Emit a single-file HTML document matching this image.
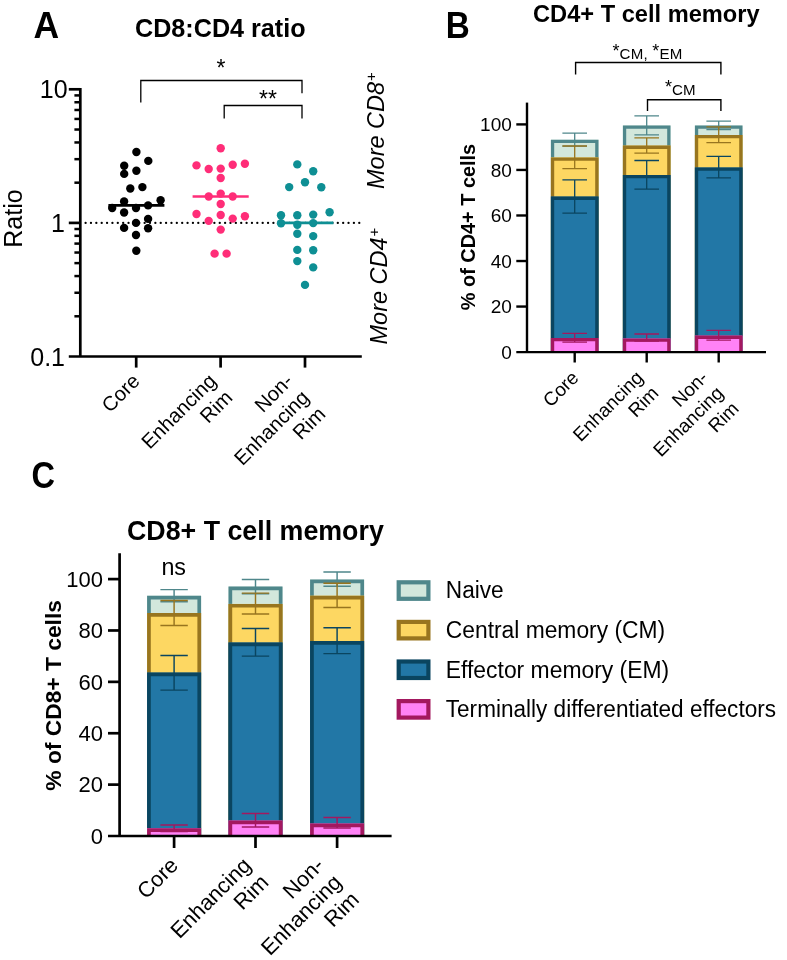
<!DOCTYPE html>
<html lang="en">
<head>
<meta charset="utf-8">
<title>T cell memory figure</title>
<style>
html,body{margin:0;padding:0;background:#fff;}
body{width:787px;height:960px;overflow:hidden;}
svg{display:block;}
svg text{font-family:"Liberation Sans", sans-serif;fill:#000;}
</style>
</head>
<body>
<svg width="787" height="960" viewBox="0 0 787 960">
<rect x="0" y="0" width="787" height="960" fill="#fff"/>
<g id="panelA">
<text transform="translate(33.5 37.8) scale(0.95 1)" font-size="37.4" font-weight="bold">A</text>
<text x="135.0" y="36.7" font-size="26.2" font-weight="bold" textLength="170.6" lengthAdjust="spacingAndGlyphs">CD8:CD4 ratio</text>
<line x1="85.6" y1="222.9" x2="362" y2="222.9" stroke="#000" stroke-width="2.3" stroke-linecap="round" stroke-dasharray="0.01 5.356"/>
<path d="M80.3 87.95000000000002 V356.5" stroke="#000" stroke-width="2.7" fill="none"/>
<path d="M68.8 356.5 H361.8" stroke="#000" stroke-width="2.7" fill="none"/>
<path d="M68.8 89.30 H80.3" stroke="#000" stroke-width="2.7"/>
<path d="M68.8 222.90 H80.3" stroke="#000" stroke-width="2.7"/>
<path d="M74.4 316.28 H80.3" stroke="#000" stroke-width="2.5"/>
<path d="M74.4 292.76 H80.3" stroke="#000" stroke-width="2.5"/>
<path d="M74.4 276.06 H80.3" stroke="#000" stroke-width="2.5"/>
<path d="M74.4 263.12 H80.3" stroke="#000" stroke-width="2.5"/>
<path d="M74.4 252.54 H80.3" stroke="#000" stroke-width="2.5"/>
<path d="M74.4 243.59 H80.3" stroke="#000" stroke-width="2.5"/>
<path d="M74.4 235.85 H80.3" stroke="#000" stroke-width="2.5"/>
<path d="M74.4 229.01 H80.3" stroke="#000" stroke-width="2.5"/>
<path d="M74.4 182.68 H80.3" stroke="#000" stroke-width="2.5"/>
<path d="M74.4 159.16 H80.3" stroke="#000" stroke-width="2.5"/>
<path d="M74.4 142.46 H80.3" stroke="#000" stroke-width="2.5"/>
<path d="M74.4 129.52 H80.3" stroke="#000" stroke-width="2.5"/>
<path d="M74.4 118.94 H80.3" stroke="#000" stroke-width="2.5"/>
<path d="M74.4 109.99 H80.3" stroke="#000" stroke-width="2.5"/>
<path d="M74.4 102.25 H80.3" stroke="#000" stroke-width="2.5"/>
<path d="M74.4 95.41 H80.3" stroke="#000" stroke-width="2.5"/>
<path d="M136.2 356.5 V367.6" stroke="#000" stroke-width="2.7"/>
<path d="M220.6 356.5 V367.6" stroke="#000" stroke-width="2.7"/>
<path d="M305.0 356.5 V367.6" stroke="#000" stroke-width="2.7"/>
<text x="67.6" y="98.40" font-size="25" text-anchor="end">10</text>
<text x="65.0" y="232.00" font-size="25" text-anchor="end">1</text>
<text x="65.0" y="365.60" font-size="25" text-anchor="end">0.1</text>
<text transform="translate(22.1 218.5) rotate(-90)" font-size="26.5" text-anchor="middle" textLength="58.4" lengthAdjust="spacingAndGlyphs">Ratio</text>
<circle cx="136.4" cy="152.0" r="4.2" fill="#000"/>
<circle cx="148.3" cy="160.9" r="4.2" fill="#000"/>
<circle cx="124.2" cy="165.8" r="4.2" fill="#000"/>
<circle cx="136.4" cy="170.7" r="4.2" fill="#000"/>
<circle cx="124.2" cy="173.9" r="4.2" fill="#000"/>
<circle cx="130.3" cy="188.5" r="4.2" fill="#000"/>
<circle cx="142.4" cy="187.1" r="4.2" fill="#000"/>
<circle cx="160.6" cy="200.3" r="4.2" fill="#000"/>
<circle cx="124.1" cy="201.5" r="4.2" fill="#000"/>
<circle cx="112.2" cy="208.0" r="4.2" fill="#000"/>
<circle cx="136.0" cy="208.0" r="4.2" fill="#000"/>
<circle cx="148.1" cy="205.4" r="4.2" fill="#000"/>
<circle cx="124.1" cy="212.5" r="4.2" fill="#000"/>
<circle cx="148.1" cy="218.9" r="4.2" fill="#000"/>
<circle cx="136.0" cy="222.9" r="4.2" fill="#000"/>
<circle cx="124.1" cy="227.9" r="4.2" fill="#000"/>
<circle cx="148.1" cy="228.3" r="4.2" fill="#000"/>
<circle cx="136.0" cy="235.0" r="4.2" fill="#000"/>
<circle cx="136.3" cy="250.8" r="4.2" fill="#000"/>
<circle cx="220.7" cy="148.3" r="4.2" fill="#ff2d78"/>
<circle cx="196.5" cy="165.4" r="4.2" fill="#ff2d78"/>
<circle cx="208.7" cy="169.0" r="4.2" fill="#ff2d78"/>
<circle cx="220.7" cy="168.6" r="4.2" fill="#ff2d78"/>
<circle cx="232.7" cy="164.8" r="4.2" fill="#ff2d78"/>
<circle cx="244.9" cy="163.7" r="4.2" fill="#ff2d78"/>
<circle cx="220.7" cy="178.0" r="4.2" fill="#ff2d78"/>
<circle cx="208.7" cy="196.5" r="4.2" fill="#ff2d78"/>
<circle cx="220.7" cy="193.6" r="4.2" fill="#ff2d78"/>
<circle cx="232.7" cy="196.5" r="4.2" fill="#ff2d78"/>
<circle cx="220.7" cy="204.0" r="4.2" fill="#ff2d78"/>
<circle cx="196.5" cy="214.0" r="4.2" fill="#ff2d78"/>
<circle cx="208.7" cy="220.9" r="4.2" fill="#ff2d78"/>
<circle cx="220.7" cy="215.0" r="4.2" fill="#ff2d78"/>
<circle cx="232.7" cy="218.6" r="4.2" fill="#ff2d78"/>
<circle cx="244.9" cy="216.2" r="4.2" fill="#ff2d78"/>
<circle cx="220.7" cy="229.6" r="4.2" fill="#ff2d78"/>
<circle cx="214.6" cy="253.6" r="4.2" fill="#ff2d78"/>
<circle cx="226.6" cy="253.6" r="4.2" fill="#ff2d78"/>
<circle cx="297.3" cy="164.4" r="4.2" fill="#0e8f94"/>
<circle cx="313.2" cy="171.3" r="4.2" fill="#0e8f94"/>
<circle cx="305.0" cy="182.2" r="4.2" fill="#0e8f94"/>
<circle cx="289.2" cy="187.1" r="4.2" fill="#0e8f94"/>
<circle cx="321.3" cy="187.3" r="4.2" fill="#0e8f94"/>
<circle cx="329.6" cy="212.3" r="4.2" fill="#0e8f94"/>
<circle cx="281.0" cy="215.2" r="4.2" fill="#0e8f94"/>
<circle cx="297.3" cy="215.2" r="4.2" fill="#0e8f94"/>
<circle cx="313.2" cy="214.6" r="4.2" fill="#0e8f94"/>
<circle cx="281.0" cy="223.3" r="4.2" fill="#0e8f94"/>
<circle cx="297.3" cy="224.7" r="4.2" fill="#0e8f94"/>
<circle cx="313.2" cy="223.1" r="4.2" fill="#0e8f94"/>
<circle cx="297.3" cy="233.7" r="4.2" fill="#0e8f94"/>
<circle cx="313.2" cy="236.1" r="4.2" fill="#0e8f94"/>
<circle cx="297.3" cy="249.9" r="4.2" fill="#0e8f94"/>
<circle cx="313.2" cy="250.3" r="4.2" fill="#0e8f94"/>
<circle cx="297.3" cy="261.1" r="4.2" fill="#0e8f94"/>
<circle cx="313.2" cy="267.4" r="4.2" fill="#0e8f94"/>
<circle cx="305.0" cy="284.9" r="4.2" fill="#0e8f94"/>
<path d="M108.4 205.4 H164.4" stroke="#000" stroke-width="2.6"/>
<path d="M192.6 196.5 H248.7" stroke="#ff2d78" stroke-width="2.6"/>
<path d="M277.4 222.9 H333.4" stroke="#0e8f94" stroke-width="2.6"/>
<path d="M140.8 102.6 V80.5 H302 V93.3" stroke="#000" stroke-width="1.3" fill="none"/>
<path d="M224.2 118.5 V105.5 H302 V118.5" stroke="#000" stroke-width="1.3" fill="none"/>
<text x="221" y="76" font-size="23" text-anchor="middle">*</text>
<text x="268" y="107" font-size="23" text-anchor="middle">**</text>
<text transform="translate(384.2 189.0) rotate(-90)" font-size="23.5" font-style="italic">More CD8<tspan font-size="15" dy="-8.4" dx="0.6">+</tspan></text>
<text transform="translate(387.1 344.5) rotate(-90)" font-size="23.5" font-style="italic">More CD4<tspan font-size="15" dy="-8.4" dx="0.6">+</tspan></text>
<text transform="translate(141.00 382.30) rotate(-45)" font-size="20.3" text-anchor="end">Core</text>
<text transform="translate(217.50 382.30) rotate(-45)" font-size="20.3" text-anchor="end">Enhancing</text>
<text transform="translate(233.80 398.80) rotate(-45)" font-size="20.3" text-anchor="end">Rim</text>
<text transform="translate(294.00 382.30) rotate(-45)" font-size="20.3" text-anchor="end">Non-</text>
<text transform="translate(310.30 398.80) rotate(-45)" font-size="20.3" text-anchor="end">Enhancing</text>
<text transform="translate(326.60 415.30) rotate(-45)" font-size="20.3" text-anchor="end">Rim</text>
</g>
<g id="panelB">
<text transform="translate(445.8 37.8) scale(0.89 1)" font-size="37.4" font-weight="bold">B</text>
<text x="533.0" y="21.5" font-size="23.5" font-weight="bold" textLength="226.6" lengthAdjust="spacingAndGlyphs">CD4+ T cell memory</text>
<rect x="550.90" y="139.70" width="47.60" height="212.40" fill="#d2e7dc"/>
<path d="M552.55 352.10 V141.35 H596.85 V352.10" fill="none" stroke="#4f878b" stroke-width="3.3"/>
<path d="M574.70 133.20 V146.20 M562.40 133.20 H587.00 M562.40 146.20 H587.00" stroke="#4f878b" stroke-width="1.3" fill="none"/>
<rect x="550.90" y="157.40" width="47.60" height="194.70" fill="#fdd762"/>
<path d="M552.55 352.10 V159.05 H596.85 V352.10" fill="none" stroke="#98751f" stroke-width="3.3"/>
<path d="M574.70 146.00 V168.60 M562.40 146.00 H587.00 M562.40 168.60 H587.00" stroke="#98751f" stroke-width="1.3" fill="none"/>
<rect x="550.90" y="196.60" width="47.60" height="155.50" fill="#2277a6"/>
<path d="M552.55 352.10 V198.25 H596.85 V352.10" fill="none" stroke="#0a4560" stroke-width="3.3"/>
<path d="M574.70 179.90 V213.20 M562.40 179.90 H587.00 M562.40 213.20 H587.00" stroke="#0a4560" stroke-width="1.3" fill="none"/>
<rect x="550.90" y="338.00" width="47.60" height="14.10" fill="#ff82f6"/>
<path d="M552.55 352.10 V339.65 H596.85 V352.10" fill="none" stroke="#a3185f" stroke-width="3.3"/>
<path d="M574.70 333.40 V342.20 M562.40 333.40 H587.00 M562.40 342.20 H587.00" stroke="#a3185f" stroke-width="1.3" fill="none"/>
<rect x="622.90" y="125.40" width="47.60" height="226.70" fill="#d2e7dc"/>
<path d="M624.55 352.10 V127.05 H668.85 V352.10" fill="none" stroke="#4f878b" stroke-width="3.3"/>
<path d="M646.70 115.90 V134.90 M634.40 115.90 H659.00 M634.40 134.90 H659.00" stroke="#4f878b" stroke-width="1.3" fill="none"/>
<rect x="622.90" y="145.60" width="47.60" height="206.50" fill="#fdd762"/>
<path d="M624.55 352.10 V147.25 H668.85 V352.10" fill="none" stroke="#98751f" stroke-width="3.3"/>
<path d="M646.70 137.80 V153.20 M634.40 137.80 H659.00 M634.40 153.20 H659.00" stroke="#98751f" stroke-width="1.3" fill="none"/>
<rect x="622.90" y="175.00" width="47.60" height="177.10" fill="#2277a6"/>
<path d="M624.55 352.10 V176.65 H668.85 V352.10" fill="none" stroke="#0a4560" stroke-width="3.3"/>
<path d="M646.70 160.50 V189.20 M634.40 160.50 H659.00 M634.40 189.20 H659.00" stroke="#0a4560" stroke-width="1.3" fill="none"/>
<rect x="622.90" y="338.50" width="47.60" height="13.60" fill="#ff82f6"/>
<path d="M624.55 352.10 V340.15 H668.85 V352.10" fill="none" stroke="#a3185f" stroke-width="3.3"/>
<path d="M646.70 334.00 V341.20 M634.40 334.00 H659.00 M634.40 341.20 H659.00" stroke="#a3185f" stroke-width="1.3" fill="none"/>
<rect x="694.90" y="125.40" width="47.60" height="226.70" fill="#d2e7dc"/>
<path d="M696.55 352.10 V127.05 H740.85 V352.10" fill="none" stroke="#4f878b" stroke-width="3.3"/>
<path d="M718.70 121.10 V129.70 M706.40 121.10 H731.00 M706.40 129.70 H731.00" stroke="#4f878b" stroke-width="1.3" fill="none"/>
<rect x="694.90" y="135.00" width="47.60" height="217.10" fill="#fdd762"/>
<path d="M696.55 352.10 V136.65 H740.85 V352.10" fill="none" stroke="#98751f" stroke-width="3.3"/>
<path d="M718.70 126.80 V142.70 M706.40 126.80 H731.00 M706.40 142.70 H731.00" stroke="#98751f" stroke-width="1.3" fill="none"/>
<rect x="694.90" y="167.50" width="47.60" height="184.60" fill="#2277a6"/>
<path d="M696.55 352.10 V169.15 H740.85 V352.10" fill="none" stroke="#0a4560" stroke-width="3.3"/>
<path d="M718.70 156.30 V177.90 M706.40 156.30 H731.00 M706.40 177.90 H731.00" stroke="#0a4560" stroke-width="1.3" fill="none"/>
<rect x="694.90" y="335.60" width="47.60" height="16.50" fill="#ff82f6"/>
<path d="M696.55 352.10 V337.25 H740.85 V352.10" fill="none" stroke="#a3185f" stroke-width="3.3"/>
<path d="M718.70 330.40 V340.20 M706.40 330.40 H731.00 M706.40 340.20 H731.00" stroke="#a3185f" stroke-width="1.3" fill="none"/>
<path d="M527.0 102.6 V352.1" stroke="#000" stroke-width="2.4" fill="none"/>
<path d="M516.3 352.1 H766" stroke="#000" stroke-width="2.4" fill="none"/>
<path d="M516.3 306.56 H527.0" stroke="#000" stroke-width="2.4"/>
<path d="M516.3 261.02 H527.0" stroke="#000" stroke-width="2.4"/>
<path d="M516.3 215.48 H527.0" stroke="#000" stroke-width="2.4"/>
<path d="M516.3 169.94 H527.0" stroke="#000" stroke-width="2.4"/>
<path d="M516.3 124.40 H527.0" stroke="#000" stroke-width="2.4"/>
<text x="511.8" y="358.90" font-size="19" text-anchor="end">0</text>
<text x="511.8" y="313.36" font-size="19" text-anchor="end">20</text>
<text x="511.8" y="267.82" font-size="19" text-anchor="end">40</text>
<text x="511.8" y="222.28" font-size="19" text-anchor="end">60</text>
<text x="511.8" y="176.74" font-size="19" text-anchor="end">80</text>
<text x="511.8" y="131.20" font-size="19" text-anchor="end">100</text>
<path d="M574.7 352.1 V362.5" stroke="#000" stroke-width="2.4"/>
<path d="M646.7 352.1 V362.5" stroke="#000" stroke-width="2.4"/>
<path d="M718.7 352.1 V362.5" stroke="#000" stroke-width="2.4"/>
<text transform="translate(475 227.0) rotate(-90)" font-size="19.9" font-weight="bold" text-anchor="middle">% of CD4+ T cells</text>
<path d="M575.6 74.4 V62.5 H720.9 V74.4" stroke="#000" stroke-width="1.4" fill="none"/>
<path d="M647.5 111.0 V99.7 H720.9 V111.0" stroke="#000" stroke-width="1.4" fill="none"/>
<text x="612.4" y="58.7" font-size="15.1" textLength="70" lengthAdjust="spacing"><tspan font-size="18" dy="-2.2">*</tspan><tspan dy="2.2">CM, </tspan><tspan font-size="18" dy="-2.2">*</tspan><tspan dy="2.2">EM</tspan></text>
<text x="665.0" y="94.7" font-size="15.1"><tspan font-size="18" dy="-2.2">*</tspan><tspan dy="2.2">CM</tspan></text>
<text transform="translate(579.80 378.90) rotate(-45)" font-size="19.0" text-anchor="end">Core</text>
<text transform="translate(644.30 378.90) rotate(-45)" font-size="19.0" text-anchor="end">Enhancing</text>
<text transform="translate(659.80 394.30) rotate(-45)" font-size="19.0" text-anchor="end">Rim</text>
<text transform="translate(708.90 378.90) rotate(-45)" font-size="19.0" text-anchor="end">Non-</text>
<text transform="translate(724.40 394.30) rotate(-45)" font-size="19.0" text-anchor="end">Enhancing</text>
<text transform="translate(739.90 409.70) rotate(-45)" font-size="19.0" text-anchor="end">Rim</text>
</g>
<g id="panelC">
<text transform="translate(31.4 488.4) scale(0.87 1)" font-size="37.4" font-weight="bold">C</text>
<text x="127.0" y="539.9" font-size="27.5" font-weight="bold" textLength="256.8" lengthAdjust="spacingAndGlyphs">CD8+ T cell memory</text>
<rect x="147.10" y="595.70" width="54.00" height="240.30" fill="#d2e7dc"/>
<path d="M148.95 836.00 V597.55 H199.25 V836.00" fill="none" stroke="#4f878b" stroke-width="3.7"/>
<path d="M174.10 589.60 V601.80 M160.40 589.60 H187.80 M160.40 601.80 H187.80" stroke="#4f878b" stroke-width="1.45" fill="none"/>
<rect x="147.10" y="613.00" width="54.00" height="223.00" fill="#fdd762"/>
<path d="M148.95 836.00 V614.85 H199.25 V836.00" fill="none" stroke="#98751f" stroke-width="3.7"/>
<path d="M174.10 600.40 V625.40 M160.40 600.40 H187.80 M160.40 625.40 H187.80" stroke="#98751f" stroke-width="1.45" fill="none"/>
<rect x="147.10" y="672.60" width="54.00" height="163.40" fill="#2277a6"/>
<path d="M148.95 836.00 V674.45 H199.25 V836.00" fill="none" stroke="#0a4560" stroke-width="3.7"/>
<path d="M174.10 655.50 V690.10 M160.40 655.50 H187.80 M160.40 690.10 H187.80" stroke="#0a4560" stroke-width="1.45" fill="none"/>
<rect x="147.10" y="828.20" width="54.00" height="7.80" fill="#ff82f6"/>
<path d="M148.95 836.00 V830.05 H199.25 V836.00" fill="none" stroke="#a3185f" stroke-width="3.7"/>
<path d="M174.10 825.00 V831.40 M160.40 825.00 H187.80 M160.40 831.40 H187.80" stroke="#a3185f" stroke-width="1.45" fill="none"/>
<rect x="228.50" y="586.60" width="54.00" height="249.40" fill="#d2e7dc"/>
<path d="M230.35 836.00 V588.45 H280.65 V836.00" fill="none" stroke="#4f878b" stroke-width="3.7"/>
<path d="M255.50 579.50 V593.70 M241.80 579.50 H269.20 M241.80 593.70 H269.20" stroke="#4f878b" stroke-width="1.45" fill="none"/>
<rect x="228.50" y="603.90" width="54.00" height="232.10" fill="#fdd762"/>
<path d="M230.35 836.00 V605.75 H280.65 V836.00" fill="none" stroke="#98751f" stroke-width="3.7"/>
<path d="M255.50 593.10 V614.00 M241.80 593.10 H269.20 M241.80 614.00 H269.20" stroke="#98751f" stroke-width="1.45" fill="none"/>
<rect x="228.50" y="642.50" width="54.00" height="193.50" fill="#2277a6"/>
<path d="M230.35 836.00 V644.35 H280.65 V836.00" fill="none" stroke="#0a4560" stroke-width="3.7"/>
<path d="M255.50 628.50 V656.10 M241.80 628.50 H269.20 M241.80 656.10 H269.20" stroke="#0a4560" stroke-width="1.45" fill="none"/>
<rect x="228.50" y="820.50" width="54.00" height="15.50" fill="#ff82f6"/>
<path d="M230.35 836.00 V822.35 H280.65 V836.00" fill="none" stroke="#a3185f" stroke-width="3.7"/>
<path d="M255.50 813.40 V827.00 M241.80 813.40 H269.20 M241.80 827.00 H269.20" stroke="#a3185f" stroke-width="1.45" fill="none"/>
<rect x="310.10" y="579.50" width="54.00" height="256.50" fill="#d2e7dc"/>
<path d="M311.95 836.00 V581.35 H362.25 V836.00" fill="none" stroke="#4f878b" stroke-width="3.7"/>
<path d="M337.10 572.00 V586.20 M323.40 572.00 H350.80 M323.40 586.20 H350.80" stroke="#4f878b" stroke-width="1.45" fill="none"/>
<rect x="310.10" y="595.70" width="54.00" height="240.30" fill="#fdd762"/>
<path d="M311.95 836.00 V597.55 H362.25 V836.00" fill="none" stroke="#98751f" stroke-width="3.7"/>
<path d="M337.10 583.20 V607.50 M323.40 583.20 H350.80 M323.40 607.50 H350.80" stroke="#98751f" stroke-width="1.45" fill="none"/>
<rect x="310.10" y="641.10" width="54.00" height="194.90" fill="#2277a6"/>
<path d="M311.95 836.00 V642.95 H362.25 V836.00" fill="none" stroke="#0a4560" stroke-width="3.7"/>
<path d="M337.10 627.80 V653.60 M323.40 627.80 H350.80 M323.40 653.60 H350.80" stroke="#0a4560" stroke-width="1.45" fill="none"/>
<rect x="310.10" y="823.50" width="54.00" height="12.50" fill="#ff82f6"/>
<path d="M311.95 836.00 V825.35 H362.25 V836.00" fill="none" stroke="#a3185f" stroke-width="3.7"/>
<path d="M337.10 817.40 V828.00 M323.40 817.40 H350.80 M323.40 828.00 H350.80" stroke="#a3185f" stroke-width="1.45" fill="none"/>
<path d="M119.6 553.2 V836.0" stroke="#000" stroke-width="2.7" fill="none"/>
<path d="M108 836.0 H391.6" stroke="#000" stroke-width="2.7" fill="none"/>
<path d="M108 784.62 H119.6" stroke="#000" stroke-width="2.7"/>
<path d="M108 733.24 H119.6" stroke="#000" stroke-width="2.7"/>
<path d="M108 681.86 H119.6" stroke="#000" stroke-width="2.7"/>
<path d="M108 630.48 H119.6" stroke="#000" stroke-width="2.7"/>
<path d="M108 579.10 H119.6" stroke="#000" stroke-width="2.7"/>
<text x="103" y="843.70" font-size="22" text-anchor="end">0</text>
<text x="103" y="792.32" font-size="22" text-anchor="end">20</text>
<text x="103" y="740.94" font-size="22" text-anchor="end">40</text>
<text x="103" y="689.56" font-size="22" text-anchor="end">60</text>
<text x="103" y="638.18" font-size="22" text-anchor="end">80</text>
<text x="103" y="586.80" font-size="22" text-anchor="end">100</text>
<path d="M174.1 836.0 V848" stroke="#000" stroke-width="2.7"/>
<path d="M255.5 836.0 V848" stroke="#000" stroke-width="2.7"/>
<path d="M337.1 836.0 V848" stroke="#000" stroke-width="2.7"/>
<text transform="translate(61.3 695.4) rotate(-90)" font-size="22.8" font-weight="bold" text-anchor="middle">% of CD8+ T cells</text>
<text x="173.7" y="574.8" font-size="23.3" text-anchor="middle">ns</text>
<text transform="translate(179.40 866.60) rotate(-45)" font-size="21.8" text-anchor="end">Core</text>
<text transform="translate(252.30 866.60) rotate(-45)" font-size="21.8" text-anchor="end">Enhancing</text>
<text transform="translate(269.90 883.70) rotate(-45)" font-size="21.8" text-anchor="end">Rim</text>
<text transform="translate(325.20 866.60) rotate(-45)" font-size="21.8" text-anchor="end">Non-</text>
<text transform="translate(342.80 883.70) rotate(-45)" font-size="21.8" text-anchor="end">Enhancing</text>
<text transform="translate(360.40 900.80) rotate(-45)" font-size="21.8" text-anchor="end">Rim</text>
<rect x="398.7" y="582.30" width="29.7" height="16.5" fill="#d2e7dc" stroke="#4f878b" stroke-width="4.2"/>
<text x="445.8" y="598.40" font-size="23.1" textLength="57.9" lengthAdjust="spacingAndGlyphs">Naive</text>
<rect x="398.7" y="621.90" width="29.7" height="16.5" fill="#fdd762" stroke="#98751f" stroke-width="4.2"/>
<text x="445.8" y="638.00" font-size="23.1" textLength="219.3" lengthAdjust="spacingAndGlyphs">Central memory (CM)</text>
<rect x="398.7" y="661.50" width="29.7" height="16.5" fill="#2277a6" stroke="#0a4560" stroke-width="4.2"/>
<text x="445.8" y="677.60" font-size="23.1" textLength="223.4" lengthAdjust="spacingAndGlyphs">Effector memory (EM)</text>
<rect x="398.7" y="701.10" width="29.7" height="16.5" fill="#ff82f6" stroke="#a3185f" stroke-width="4.2"/>
<text x="445.8" y="717.20" font-size="23.1" textLength="330.2" lengthAdjust="spacingAndGlyphs">Terminally differentiated effectors</text>
</g>
</svg>
</body>
</html>
